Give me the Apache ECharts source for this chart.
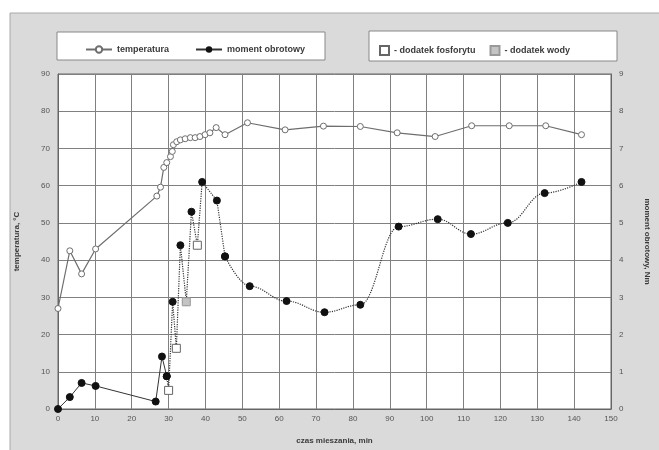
<!DOCTYPE html>
<html>
<head>
<meta charset="utf-8">
<script src="https://cdn.jsdelivr.net/npm/echarts@6/dist/echarts.min.js"></script>
<style>
  html, body { margin: 0; padding: 0; background: #fff; }
  #chart { width: 659px; height: 450px; }
</style>
</head>
<body>
<div id="chart"></div>
<script>
// temperatura, °C (lewa oś)
var tempTime = [0, 3.2, 6.4, 10.2, 26.8, 27.8, 28.7, 29.5, 30.5, 31, 31.3, 32.2, 33.2, 34.5, 35.9, 37.2, 38.5, 39.9, 41.2, 42.9, 45.3, 51.4, 61.6, 72, 82, 92, 102.3, 112.2, 122.4, 132.3, 142];
var tempVal  = [27, 42.5, 36.3, 43, 57.2, 59.6, 64.9, 66.2, 67.8, 69.2, 71, 71.8, 72.3, 72.6, 72.9, 72.9, 73.2, 73.7, 74.2, 75.6, 73.7, 76.9, 75, 76, 75.9, 74.2, 73.2, 76.1, 76.1, 76.1, 73.7];

// moment obrotowy, Nm (prawa oś) - trzy odcinki
var torqueStartTime = [0, 3.2, 6.4, 10.2, 26.5, 28.2, 29.5];
var torqueStartVal  = [0, 0.32, 0.7, 0.62, 0.2, 1.41, 0.88];
var torqueJumpTime  = [29.5, 30, 31.1, 32.1, 33.2, 34.8, 36.2, 37.8, 39.1, 43.1, 45.3];
var torqueJumpVal   = [0.88, 0.5, 2.88, 1.63, 4.4, 2.88, 5.3, 4.4, 6.1, 5.6, 4.1];
var torqueTailTime  = [45.3, 52, 62, 72.3, 82, 92.4, 103, 112, 122, 132, 142];
var torqueTailVal   = [4.1, 3.3, 2.9, 2.6, 2.8, 4.9, 5.1, 4.7, 5.0, 5.8, 6.1];

// dodatki
var phosTime  = [30, 32.1, 37.8];
var phosVal   = [0.5, 1.63, 4.4];
var waterTime = [34.8];
var waterVal  = [2.88];

var zip = function(a, b){
	return a.map(function(x, i){ return [x, b[i]]; });
};

var txt = '#3a3a3a';
var font = 'Liberation Sans, Arial, sans-serif';

var option = {
	backgroundColor: '#fff',
	animation: false,
	graphic: [
		{ type: 'rect', z: -10, shape: {x: 10, y: 13, width: 660, height: 450},
		  style: {fill: '#dadada', stroke: '#a8a8a8', lineWidth: 1} },
		{ type: 'rect', z: -5, shape: {x: 57, y: 32, width: 268, height: 28},
		  style: {fill: '#fff', stroke: '#888', lineWidth: 1} },
		{ type: 'rect', z: -5, shape: {x: 369, y: 31, width: 248, height: 30},
		  style: {fill: '#fff', stroke: '#888', lineWidth: 1} }
	],
	legend: [
		{
			data: ['temperatura', 'moment obrotowy'],
			left: 80, top: 40,
			itemWidth: 26, itemHeight: 8, itemGap: 26,
			textStyle: {fontSize: 9, fontWeight: 'bold', color: txt, fontFamily: font}
		},
		{
			data: ['dodatek fosforytu', 'dodatek wody'],
			left: 374, top: 40,
			itemWidth: 9, itemHeight: 9, itemGap: 14,
			formatter: '- {name}',
			textStyle: {fontSize: 9, fontWeight: 'bold', color: txt, fontFamily: font}
		}
	],
	grid: {
		left: 58, right: 41, top: 74, bottom: 39,
		show: true, backgroundColor: '#fff', borderColor: '#666', borderWidth: 1
	},
	xAxis: {
		type: 'value', min: 0, max: 150, interval: 10,
		name: 'czas mieszania, min', nameLocation: 'middle', nameGap: 28,
		nameTextStyle: {fontSize: 8, fontWeight: 'bold', color: txt, fontFamily: font},
		axisLine: {lineStyle: {color: '#666'}},
		axisTick: {show: false},
		axisLabel: {fontSize: 8, color: '#555', margin: 6, fontFamily: font},
		splitLine: {lineStyle: {color: '#808080', width: 1}}
	},
	yAxis: [
		{
			type: 'value', min: 0, max: 90, interval: 10,
			name: 'temperatura, °C', nameLocation: 'middle', nameGap: 37,
			nameTextStyle: {fontSize: 8, fontWeight: 'bold', color: txt, fontFamily: font},
			axisLine: {show: true, lineStyle: {color: '#666'}},
			axisTick: {show: false},
			axisLabel: {fontSize: 8, color: '#555', margin: 8, fontFamily: font},
			splitLine: {lineStyle: {color: '#808080', width: 1}}
		},
		{
			type: 'value', min: 0, max: 9, interval: 1, position: 'right',
			name: 'moment obrotowy, Nm', nameLocation: 'middle', nameGap: 32, nameRotate: -90,
			nameTextStyle: {fontSize: 8, fontWeight: 'bold', color: txt, fontFamily: font},
			axisLine: {show: true, lineStyle: {color: '#666'}},
			axisTick: {show: false},
			axisLabel: {fontSize: 8, color: '#555', margin: 8, fontFamily: font},
			splitLine: {show: false}
		}
	],
	series: [
		{
			name: 'temperatura', type: 'line', yAxisIndex: 0,
			data: zip(tempTime, tempVal),
			symbol: 'circle', symbolSize: 6,
			lineStyle: {color: '#6e6e6e', width: 1.2},
			itemStyle: {color: '#fff', borderColor: '#6e6e6e', borderWidth: 1},
			z: 3
		},
		{
			name: 'moment obrotowy', type: 'line', yAxisIndex: 1,
			data: zip(torqueStartTime, torqueStartVal),
			symbol: 'circle', symbolSize: 7,
			lineStyle: {color: '#333', width: 1},
			itemStyle: {color: '#111', borderColor: '#111'},
			z: 4
		},
		{
			name: 'moment obrotowy', type: 'line', yAxisIndex: 1,
			data: zip(torqueJumpTime, torqueJumpVal),
			symbol: 'circle', symbolSize: 7,
			lineStyle: {color: '#333', width: 1.2, type: 'dotted'},
			itemStyle: {color: '#111', borderColor: '#111'},
			z: 4
		},
		{
			name: 'moment obrotowy', type: 'line', yAxisIndex: 1,
			data: zip(torqueTailTime, torqueTailVal),
			smooth: 0.4, smoothMonotone: 'x',
			symbol: 'circle', symbolSize: 7,
			lineStyle: {color: '#333', width: 1.2, type: 'dotted'},
			itemStyle: {color: '#111', borderColor: '#111'},
			z: 4
		},
		{
			name: 'dodatek fosforytu', type: 'scatter', yAxisIndex: 1,
			data: zip(phosTime, phosVal),
			symbol: 'rect', symbolSize: 8,
			itemStyle: {color: '#fff', borderColor: '#666', borderWidth: 1, opacity: 1},
			z: 5
		},
		{
			name: 'dodatek wody', type: 'scatter', yAxisIndex: 1,
			data: zip(waterTime, waterVal),
			symbol: 'rect', symbolSize: 8,
			itemStyle: {color: '#c4c4c4', borderColor: '#999', borderWidth: 1, opacity: 1},
			z: 5
		}
	]
};

try{
	var myChart = echarts.init(document.getElementById('chart'));
	myChart.setOption(option);
}
catch(e){
	console.log(e);
}
</script>
</body>
</html>
